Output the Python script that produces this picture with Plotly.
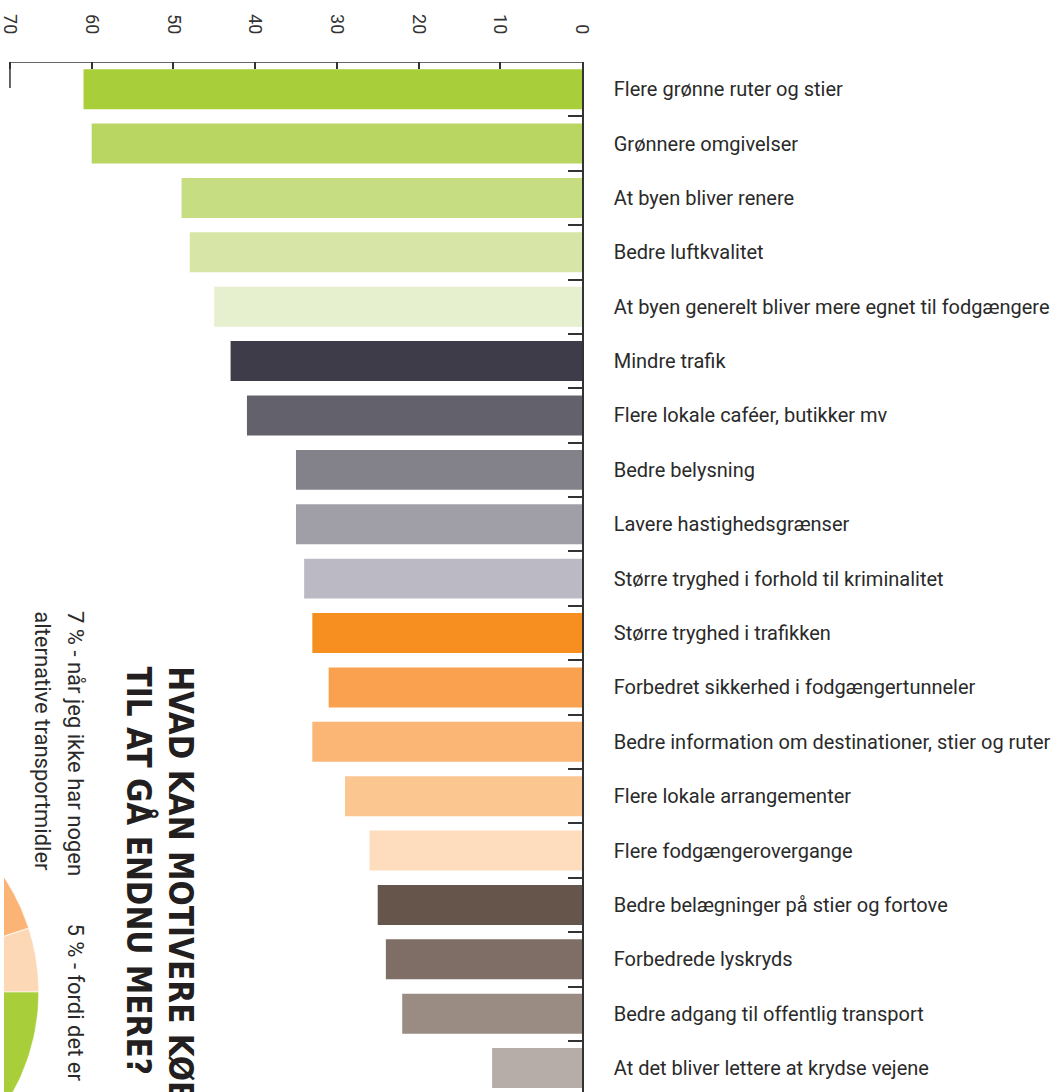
"""
Rotated horizontal bar chart: what would motivate people to walk more.
"""
import numpy as np
import plotly.graph_objects as go

categories = [
    "Flere grønne ruter og stier",
    "Grønnere omgivelser",
    "At byen bliver renere",
    "Bedre luftkvalitet",
    "At byen generelt bliver mere egnet til fodgængere",
    "Mindre trafik",
    "Flere lokale caféer, butikker mv",
    "Bedre belysning",
    "Lavere hastighedsgrænser",
    "Større tryghed i forhold til kriminalitet",
    "Større tryghed i trafikken",
    "Forbedret sikkerhed i fodgængertunneler",
    "Bedre information om destinationer, stier og ruter",
    "Flere lokale arrangementer",
    "Flere fodgængerovergange",
    "Bedre belægninger på stier og fortove",
    "Forbedrede lyskryds",
    "Bedre adgang til offentlig transport",
    "At det bliver lettere at krydse vejene",
]
values = [61, 60, 49, 48, 45, 43, 41, 35, 35, 34, 33, 31, 33, 29, 26, 25, 24, 22, 11]
bar_colors = [
    "#A8CE3A", "#B9D662", "#C6DD82", "#D7E6A6", "#E6EFCE",
    "#3E3C48", "#63626C", "#83828B", "#A09FA8", "#BBBAC4",
    "#F68E20", "#F9A14E", "#FBB574", "#FCC690", "#FEDDBE",
    "#66554B", "#7E6E66", "#9A8B83", "#B6ACA8",
]
x_ticks = [0, 10, 20, 30, 40, 50, 60, 70]

# pie fragment in the lower left corner (mostly outside the page)
pie_labels = ["fordi det er ...", "når jeg ikke har nogen alternative transportmidler", "øvrige"]
pie_values = [5, 7, 88]
pie_colors = ["#FDD8B6", "#FBB475", "#A8CE3A"]

title_lines = ["HVAD KAN MOTIVERE KØBENHAVNERE", "TIL AT GÅ ENDNU MERE?"]
note_7 = ["7 % - når jeg ikke har nogen", "alternative transportmidler"]
note_5 = "5 % - fordi det er"

W, H = 1056, 1092
ML, MR, MT, MB = 0, 474, 62, 0
PW = W - ML - MR
PIE_CX, PIE_CY, PIE_R = -171, 992, 206

TXT = "#2a2a2a"
AX = "#333333"
FONT = "Roboto, Open Sans, sans-serif"
TFONT = "Liberation Sans Narrow, DejaVu Sans Condensed, sans-serif"

fig = go.Figure()
fig.add_trace(go.Bar(
    x=values, y=categories, orientation="h",
    marker=dict(color=bar_colors, line=dict(width=0)),
    hovertemplate="%{y}: %{x}%<extra></extra>",
    showlegend=False,
))

start = 0.0
for lab, val, col in zip(pie_labels, pie_values, pie_colors):
    end = start - val * 3.6
    th = np.radians(np.linspace(start, end, 200))
    xs = np.concatenate([[PIE_CX], PIE_CX + PIE_R * np.cos(th), [PIE_CX]])
    ys = np.concatenate([[PIE_CY], PIE_CY + PIE_R * np.sin(th), [PIE_CY]])
    fig.add_trace(go.Scatter(
        x=xs, y=ys, mode="lines", fill="toself", fillcolor=col,
        line=dict(color="white", width=0.6), xaxis="x2", yaxis="y2",
        hoverinfo="text", text=f"{val} % - {lab}", showlegend=False,
    ))
    start = end

px_per_unit = 576 / 70.0
x_left = PW / px_per_unit

fig.update_layout(
    width=W, height=H,
    margin=dict(l=ML, r=MR, t=MT, b=MB, pad=0),
    paper_bgcolor="white", plot_bgcolor="white",
    bargap=0.265,
    font=dict(family=FONT, color=TXT),
    xaxis=dict(
        side="top", range=[x_left, 0], tickvals=x_ticks,
        ticks="inside", ticklen=7, tickwidth=1.5, tickcolor=AX,
        tickangle=90, tickfont=dict(size=18, color=AX, family=FONT),
        ticklabelstandoff=24, ticklabeloverflow="allow",
        showline=False, showgrid=False, zeroline=False, fixedrange=True,
    ),
    yaxis=dict(
        side="right", type="category", range=[18.44, -0.5],
        ticks="inside", tickson="boundaries", ticklen=14, tickwidth=1.5,
        tickcolor=AX, showline=True, linecolor=AX, linewidth=1.5,
        tickfont=dict(size=20, color=TXT, family=FONT),
        ticklabelstandoff=26,
        showgrid=False, zeroline=False, fixedrange=True,
    ),
    xaxis2=dict(overlaying="x", range=[0, PW], visible=False, fixedrange=True),
    yaxis2=dict(overlaying="y", range=[H, MT], visible=False, fixedrange=True),
)

# top axis line, with the longer end tick at 70
fig.add_shape(type="line", xref="x", yref="y2", x0=70, x1=0, y0=MT, y1=MT,
              line=dict(color=AX, width=1.5))
fig.add_shape(type="line", xref="x", yref="y2", x0=70, x1=70, y0=MT, y1=MT + 26,
              line=dict(color=AX, width=1.5))

# rotated title
for txt, xc in zip(title_lines, [178, 136]):
    fig.add_annotation(
        text=f"<b>{txt}</b>", xref="x2", yref="y2", x=xc, y=664,
        xanchor="center", yanchor="top", textangle=90, showarrow=False,
        font=dict(size=33, color="#231F20", family=TFONT),
    )

for txt, xc in zip(note_7, [72, 39]):
    fig.add_annotation(
        text=txt, xref="x2", yref="y2", x=xc, y=609,
        xanchor="center", yanchor="top", textangle=90, showarrow=False,
        font=dict(size=22, color=TXT, family=FONT),
    )
fig.add_annotation(
    text=note_5, xref="x2", yref="y2", x=72, y=921,
    xanchor="center", yanchor="top", textangle=90, showarrow=False,
    font=dict(size=22, color=TXT, family=FONT),
)

fig.write_html(
    "out.html",
    config={"displayModeBar": False},
    post_script="document.body.style.margin = '0';",
)
